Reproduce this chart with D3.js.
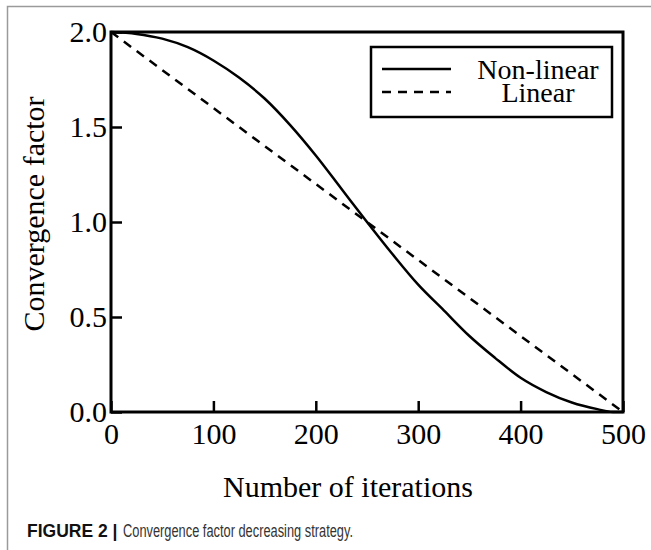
<!DOCTYPE html>
<html>
<head>
<meta charset="utf-8">
<script src="https://cdn.jsdelivr.net/npm/d3@7"></script>
<style>
  body { margin: 0; background: #fff; }
  svg { display: block; }
</style>
</head>
<body>
<script>
// données
const iterations = [0, 25, 50, 75, 100, 125, 150, 175, 200, 225, 250, 275, 300,
  325, 350, 375, 400, 425, 450, 475, 490, 500];
const nonLineaire = [2.0, 1.99, 1.965, 1.92, 1.85, 1.76, 1.65, 1.51, 1.35, 1.175, 1.00,
  0.83, 0.67, 0.535, 0.40, 0.285, 0.18, 0.105, 0.05, 0.015, 0.0, 0.0];
const lineaireX = [0, 500];
const lineaireY = [2.0, 0.0];
const ticksX = [0, 100, 200, 300, 400, 500];
const ticksY = [0, 0.5, 1.0, 1.5, 2.0];
const legende = ["Non-linear", "Linear"];

const W = 651, H = 550;
const x0 = 111, x1 = 623, y0 = 32, y1 = 412;
const serif = "'Liberation Serif', 'Times New Roman', serif";

const canevas = d3.select('body')
  .append('svg')
  .attr('width', W)
  .attr('height', H);

// cadre gris de la figure
canevas.append('path')
  .attr('d', `M7.5,${H} V6.5 H${W}`)
  .attr('fill', 'none')
  .attr('stroke', '#9a9a9a')
  .attr('stroke-width', 1.5);

const x = d3.scaleLinear().domain([0, 500]).range([x0, x1]);
const y = d3.scaleLinear().domain([0, 2]).range([y1, y0]);

// axes
const axeX = canevas.append('g')
  .attr('transform', `translate(0,${y1})`)
  .call(d3.axisBottom(x).tickValues(ticksX).tickFormat(d3.format('d'))
    .tickSizeInner(-11).tickSizeOuter(0).tickPadding(11));
const axeY = canevas.append('g')
  .attr('transform', `translate(${x0},0)`)
  .call(d3.axisLeft(y).tickValues(ticksY).tickFormat(d3.format('.1f'))
    .tickSizeInner(-11).tickSizeOuter(0).tickPadding(4));

[axeX, axeY].forEach(a => {
  a.select('.domain').remove();
  a.selectAll('line').attr('stroke', '#000').attr('stroke-width', 2.5);
  a.selectAll('text')
    .attr('fill', '#000')
    .style('font-family', serif)
    .style('font-size', '30px');
});

// lignes
const ligne = d3.line()
  .x(d => x(d[0]))
  .y(d => y(d[1]))
  .curve(d3.curveMonotoneX);

canevas.append('path')
  .datum(iterations.map((t, i) => [t, nonLineaire[i]]))
  .attr('d', ligne)
  .attr('fill', 'none')
  .attr('stroke', '#000')
  .attr('stroke-width', 2.5);

canevas.append('path')
  .datum(lineaireX.map((t, i) => [t, lineaireY[i]]))
  .attr('d', d3.line().x(d => x(d[0])).y(d => y(d[1])))
  .attr('fill', 'none')
  .attr('stroke', '#000')
  .attr('stroke-width', 2.5)
  .attr('stroke-dasharray', '9,7');

// cadre du tracé
canevas.append('rect')
  .attr('x', x0).attr('y', y0)
  .attr('width', x1 - x0).attr('height', y1 - y0)
  .attr('fill', 'none')
  .attr('stroke', '#000')
  .attr('stroke-width', 3);

// légende
const leg = canevas.append('g');
leg.append('rect')
  .attr('x', 371).attr('y', 47)
  .attr('width', 241).attr('height', 70)
  .attr('fill', '#fff')
  .attr('stroke', '#000')
  .attr('stroke-width', 2.5);
legende.forEach((nom, i) => {
  const yy = 69 + i * 23;
  leg.append('line')
    .attr('x1', 382).attr('x2', 451)
    .attr('y1', yy).attr('y2', yy)
    .attr('stroke', '#000')
    .attr('stroke-width', 2.5)
    .attr('stroke-dasharray', i === 0 ? null : '9,7');
  leg.append('text')
    .attr('x', 538).attr('y', yy + 10)
    .attr('text-anchor', 'middle')
    .style('font-family', serif)
    .style('font-size', '28px')
    .text(nom);
});

// titres des axes
canevas.append('text')
  .attr('x', 348).attr('y', 497)
  .attr('text-anchor', 'middle')
  .style('font-family', serif)
  .style('font-size', '30px')
  .text('Number of iterations');

canevas.append('text')
  .attr('transform', 'translate(44,214) rotate(-90)')
  .attr('text-anchor', 'middle')
  .style('font-family', serif)
  .style('font-size', '30px')
  .text('Convergence factor');

// légende de la figure
const sans = "'Liberation Sans', Arial, sans-serif";
canevas.append('text')
  .attr('x', 27).attr('y', 537)
  .style('font-family', sans)
  .style('font-size', '17.5px')
  .style('font-weight', 'bold')
  .attr('fill', '#111')
  .text('FIGURE 2 |');
canevas.append('text')
  .attr('x', 123).attr('y', 537)
  .attr('textLength', 230)
  .attr('lengthAdjust', 'spacingAndGlyphs')
  .style('font-family', sans)
  .style('font-size', '17.5px')
  .attr('fill', '#333')
  .text('Convergence factor decreasing strategy.');
</script>
</body>
</html>
